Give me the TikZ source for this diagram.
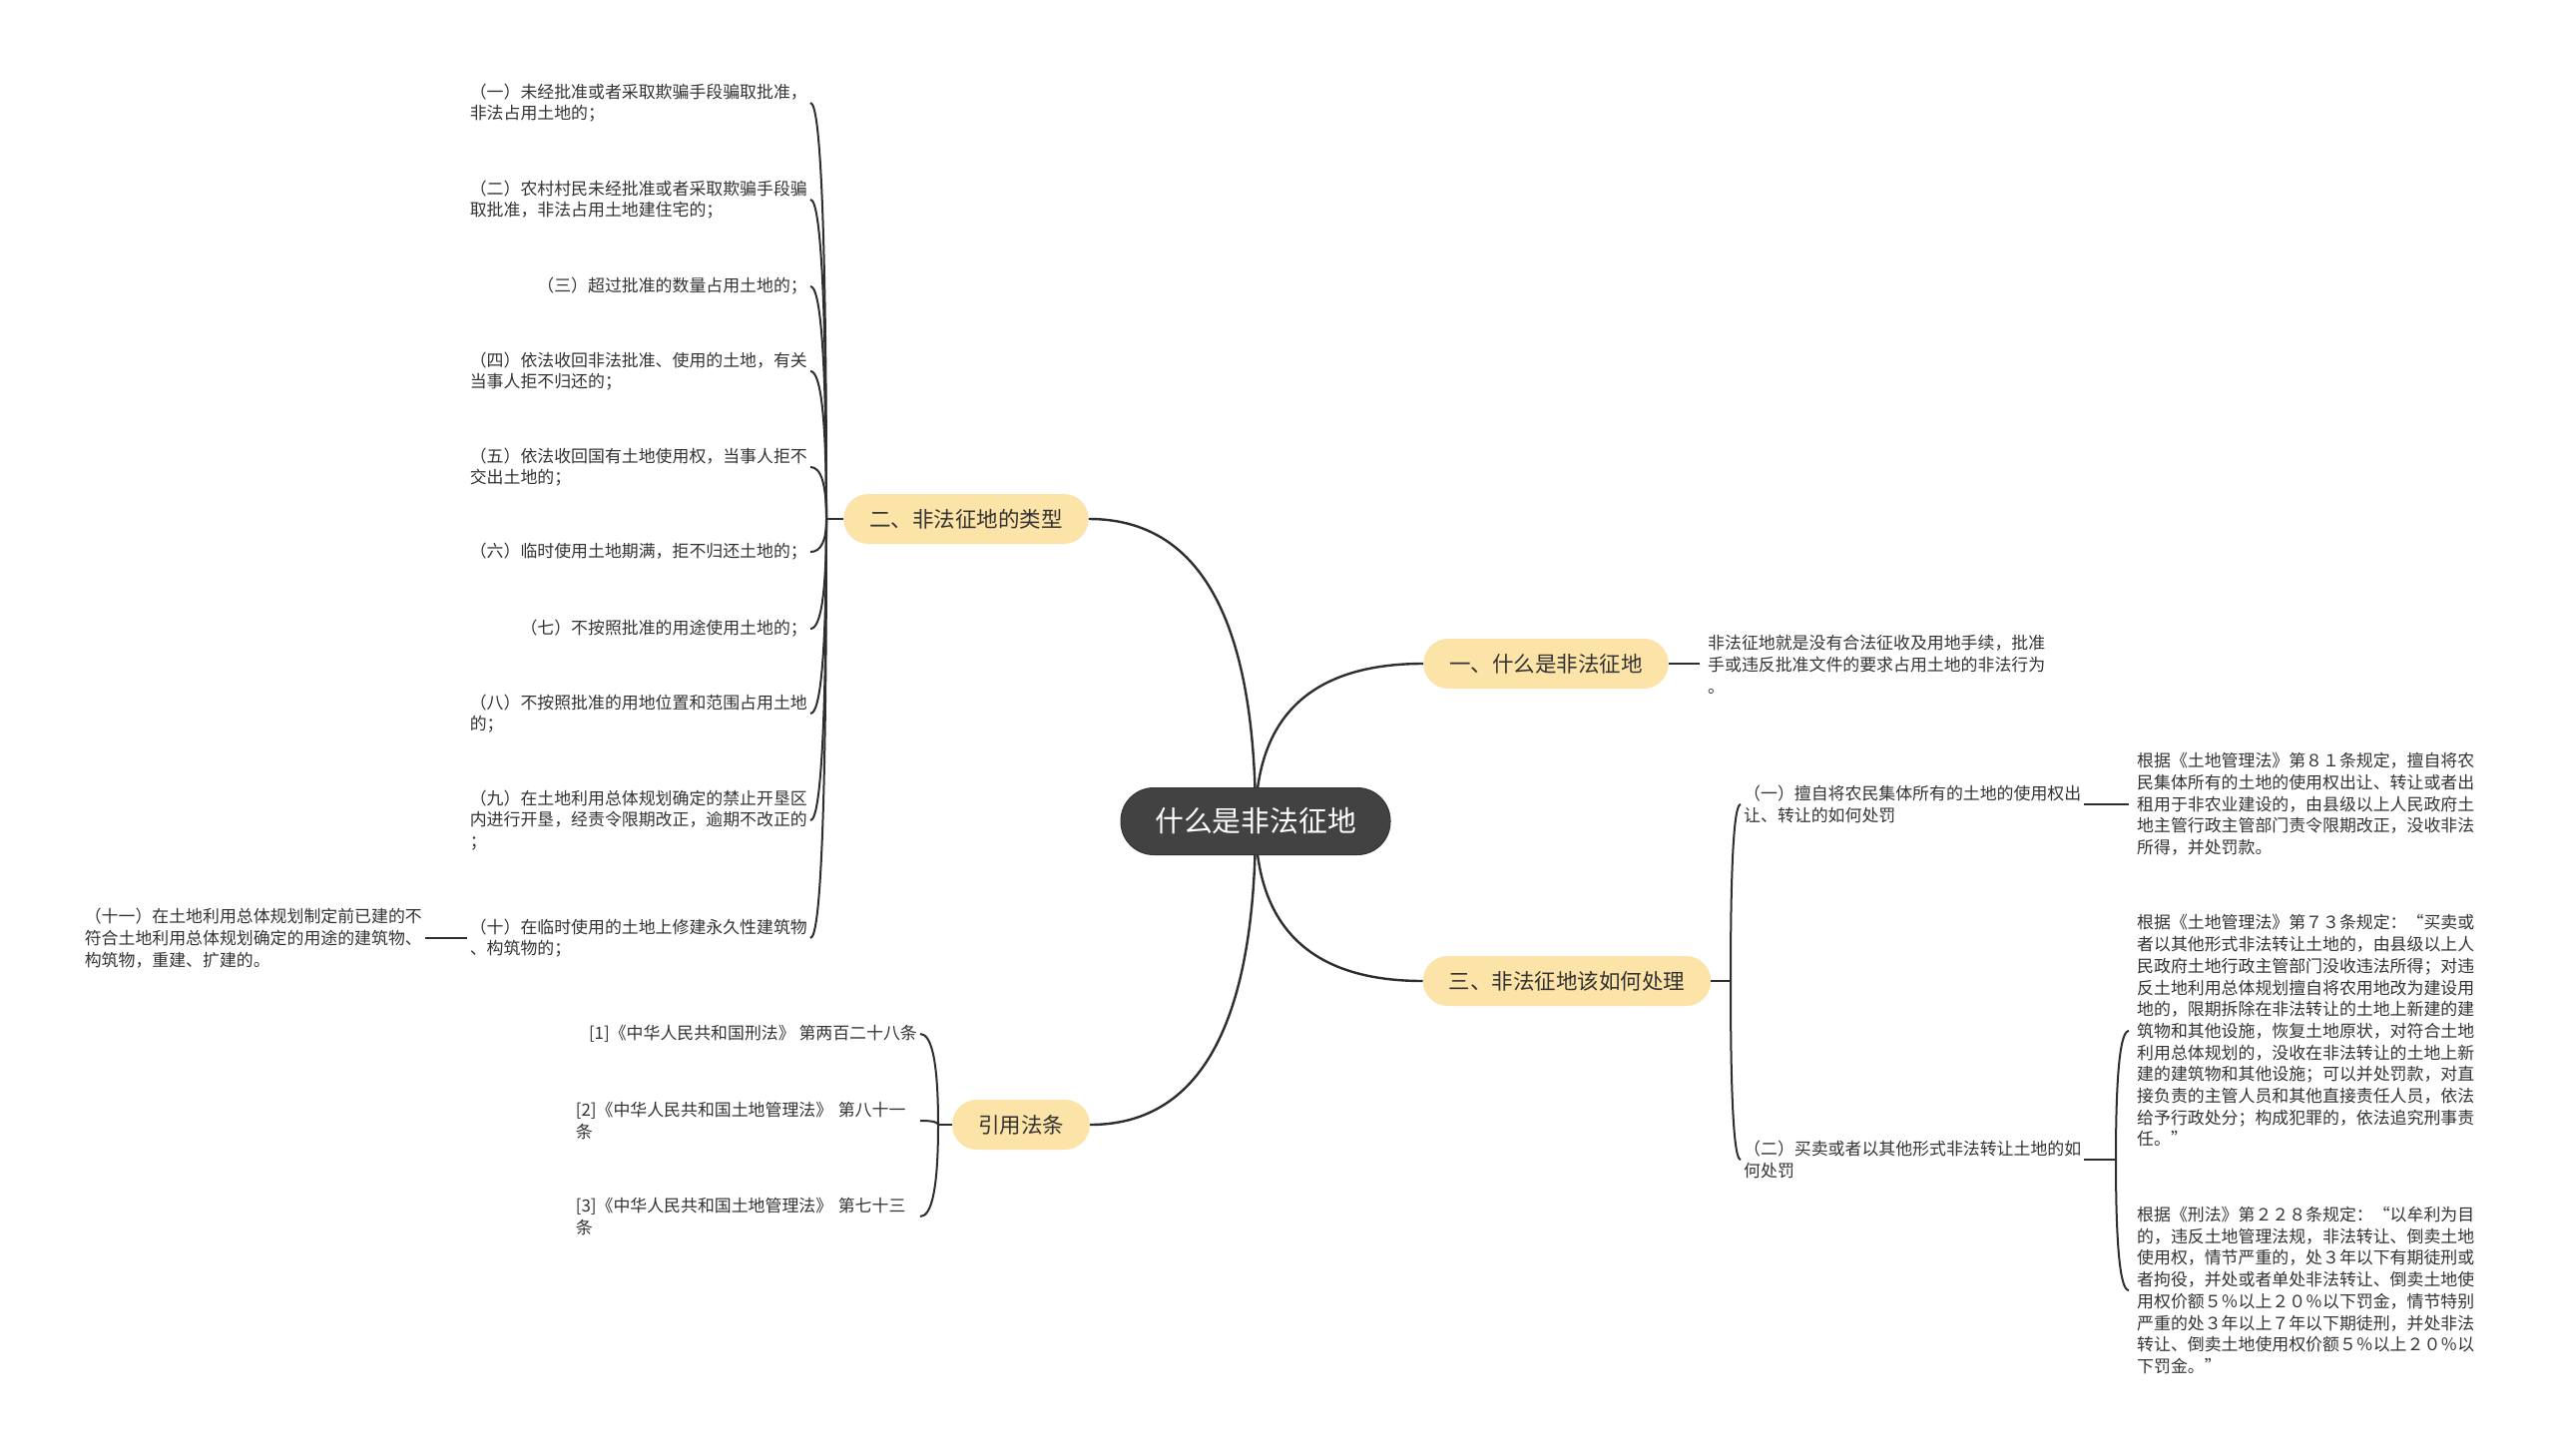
\documentclass[tikz,border=0pt]{standalone}
\usepackage{fontspec}
\setmainfont{Noto Sans CJK SC}
\usetikzlibrary{calc}
\definecolor{rootfill}{HTML}{424242}
\definecolor{rootdraw}{HTML}{333333}
\definecolor{branchfill}{HTML}{FCE3A8}
\definecolor{txt}{HTML}{333333}
\definecolor{linec}{HTML}{2E2E2E}
\newcommand{\qlink}[3][link]{\draw[#1] (#2) .. controls ($(#2)!0.6667!(#2 |- #3)$) and ($(#3)!0.6667!(#2 |- #3)$) .. (#3);}
\begin{document}
\begin{tikzpicture}[x=1pt,y=-1pt,
  root/.style={fill=rootfill, draw=rootdraw, line width=1pt, rounded corners=33pt, minimum height=67pt, minimum width=270pt, text=white, font=\fontsize{28.8pt}{34pt}\selectfont, inner sep=0pt},
  branch/.style={fill=branchfill, rounded corners=24.9pt, minimum height=50pt, inner xsep=26pt, inner ysep=0pt, text=txt, font=\fontsize{21.5pt}{26pt}\selectfont},
  leaf/.style={align=left, text=txt, font=\fontsize{16.9pt}{21.7pt}\selectfont, inner xsep=3pt, inner ysep=2pt},
  link/.style={draw=linec, line width=2.4pt},
  sublink/.style={draw=linec, line width=2pt}]
\fill[white] (0,0) rectangle (2560,1459);
\useasboundingbox (0,0) rectangle (2560,1459);

% branch nodes
\node[branch] (b1) at (1549,665) {一、什么是非法征地};
\node[branch] (b2) at (968,520) {二、非法征地的类型};
\node[branch] (b3) at (1570,983) {三、非法征地该如何处理};
\node[branch] (b4) at (1023,1127) {引用法条};

% main curves
\coordinate (C) at (1258,823);
\qlink{C}{b1.west}
\qlink{C}{b2.east}
\qlink{C}{b3.west}
\qlink{C}{b4.east}
\node[root] (root) at (C) {什么是非法征地};

% branch 二
\node[leaf, anchor=east] (t1) at (812,103) {（一）未经批准或者采取欺骗手段骗取批准，\\非法占用土地的；};
\node[leaf, anchor=east] (t2) at (812,200) {（二）农村村民未经批准或者采取欺骗手段骗\\取批准，非法占用土地建住宅的；};
\node[leaf, anchor=east] (t3) at (812,287) {（三）超过批准的数量占用土地的；};
\node[leaf, anchor=east] (t4) at (812,372) {（四）依法收回非法批准、使用的土地，有关\\当事人拒不归还的；};
\node[leaf, anchor=east] (t5) at (812,468) {（五）依法收回国有土地使用权，当事人拒不\\交出土地的；};
\node[leaf, anchor=east] (t6) at (812,553) {（六）临时使用土地期满，拒不归还土地的；};
\node[leaf, anchor=east] (t7) at (812,630) {（七）不按照批准的用途使用土地的；};
\node[leaf, anchor=east] (t8) at (812,715) {（八）不按照批准的用地位置和范围占用土地\\的；};
\node[leaf, anchor=east] (t9) at (812,822) {（九）在土地利用总体规划确定的禁止开垦区\\内进行开垦，经责令限期改正，逾期不改正的\\；};
\node[leaf, anchor=east] (t10) at (812,940) {（十）在临时使用的土地上修建永久性建筑物\\、构筑物的；};
\node[leaf, anchor=east] (t11) at (426,940) {（十一）在土地利用总体规划制定前已建的不\\符合土地利用总体规划确定的用途的建筑物、\\构筑物，重建、扩建的。};
\coordinate (J2) at (828,520);
\draw[sublink] (b2.west) -- (J2);
\foreach \n in {t1,t2,t3,t4,t5,t6,t7,t8,t9,t10} {\qlink[sublink]{J2}{\n.east}}
\draw[sublink] (t10.west) -- (t10.west -| t11.east);

% branch 引用法条
\node[leaf, anchor=east] (r1) at (922,1036) {[1]《中华人民共和国刑法》 第两百二十八条};
\node[leaf, anchor=east, text width=342pt] (r2) at (922,1123) {[2]《中华人民共和国土地管理法》 第八十一\\条};
\node[leaf, anchor=east, text width=342pt] (r3) at (922,1219) {[3]《中华人民共和国土地管理法》 第七十三\\条};
\coordinate (J4) at (940,1127);
\draw[sublink] (b4.west) -- (J4);
\foreach \n in {r1,r2,r3} {\qlink[sublink]{J4}{\n.east}}

% branch 一
\node[leaf, anchor=west, inner xsep=8pt] (d1) at (1703,666) {非法征地就是没有合法征收及用地手续，批准\\手或违反批准文件的要求占用土地的非法行为\\。};
\draw[sublink] (b1.east) -- (b1.east -| d1.west);

% branch 三
\coordinate (J3) at (1734,983);
\draw[sublink] (b3.east) -- (J3);
\node[leaf, anchor=west] (s1) at (1744,806) {（一）擅自将农民集体所有的土地的使用权出\\让、转让的如何处罚};
\node[leaf, anchor=west] (s2) at (1744,1162) {（二）买卖或者以其他形式非法转让土地的如\\何处罚};
\qlink[sublink]{J3}{s1.west}
\qlink[sublink]{J3}{s2.west}
\node[leaf, anchor=west, inner xsep=8pt] (s1a) at (2133,806) {根据《土地管理法》第８１条规定，擅自将农\\民集体所有的土地的使用权出让、转让或者出\\租用于非农业建设的，由县级以上人民政府土\\地主管行政主管部门责令限期改正，没收非法\\所得，并处罚款。};
\draw[sublink] (s1.east) -- (s1.east -| s1a.west);
\coordinate (J5) at (2120,1162);
\draw[sublink] (s2.east) -- (J5);
\node[leaf, anchor=west, inner xsep=8pt] (s2a) at (2133,1033) {根据《土地管理法》第７３条规定：“买卖或\\者以其他形式非法转让土地的，由县级以上人\\民政府土地行政主管部门没收违法所得；对违\\反土地利用总体规划擅自将农用地改为建设用\\地的，限期拆除在非法转让的土地上新建的建\\筑物和其他设施，恢复土地原状，对符合土地\\利用总体规划的，没收在非法转让的土地上新\\建的建筑物和其他设施；可以并处罚款，对直\\接负责的主管人员和其他直接责任人员，依法\\给予行政处分；构成犯罪的，依法追究刑事责\\任。”};
\node[leaf, anchor=west, inner xsep=8pt] (s2b) at (2133,1293) {根据《刑法》第２２８条规定：“以牟利为目\\的，违反土地管理法规，非法转让、倒卖土地\\使用权，情节严重的，处３年以下有期徒刑或\\者拘役，并处或者单处非法转让、倒卖土地使\\用权价额５％以上２０％以下罚金，情节特别\\严重的处３年以上７年以下期徒刑，并处非法\\转让、倒卖土地使用权价额５％以上２０％以\\下罚金。”};
\qlink[sublink]{J5}{s2a.west}
\qlink[sublink]{J5}{s2b.west}
\end{tikzpicture}
\end{document}
